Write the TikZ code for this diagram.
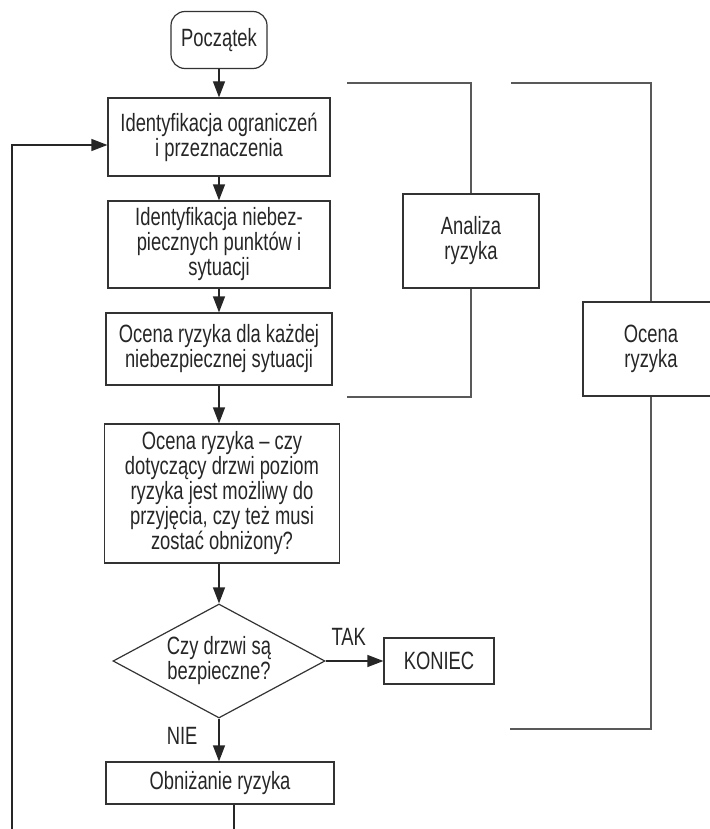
\documentclass[tikz,border=0pt]{standalone}
\usepackage{fontspec}
\setmainfont{Liberation Sans}[FakeStretch=0.735]
\usetikzlibrary{shapes.geometric,arrows.meta}
\begin{document}
\begin{tikzpicture}[x=1pt,y=-1pt,
                    thick,line width=1.2pt,
                    every node/.style={text=black!85,font=\fontsize{25}{25}\selectfont},
                    box node/.style={rectangle,draw=black!80,align=center,inner sep=0pt},
                    start node/.style={box node,rounded corners=14pt},
                    decision node/.style={diamond,draw=black!80,align=center,inner sep=0pt,
                                          aspect=1.86,minimum width=212,minimum height=114},
                    label node/.style={inner sep=2pt},
                    flow/.style={draw=black!85,-{Triangle[length=16pt,width=12pt]}},
                    bracket/.style={draw=black!65,line width=1.4pt}]
             \useasboundingbox (0,0) rectangle (709,829);
             % main column
             \node[start node,minimum width=96,minimum height=57] (0) at (219,40) {Początek};
             \node[box node,minimum width=222,minimum height=78] (1) at (219,137)
                  {Identyfikacja ograniczeń\\ i przeznaczenia};
             \node[box node,minimum width=222,minimum height=87] (2) at (219,244.5)
                  {Identyfikacja niebez-\\ piecznych punktów i\\ sytuacji};
             \node[box node,minimum width=226,minimum height=72] (3) at (219,349)
                  {Ocena ryzyka dla każdej\\ niebezpiecznej sytuacji};
             \node[box node,minimum width=235,minimum height=139] (4) at (222,493.5)
                  {Ocena ryzyka – czy\\ dotyczący drzwi poziom\\ ryzyka jest możliwy do\\ przyjęcia, czy też musi\\ zostać obniżony?};
             \node[decision node] (5) at (219,661) {Czy drzwi są\\ bezpieczne?};
             \node[box node,minimum width=228,minimum height=42] (6) at (220,783) {Obniżanie ryzyka};
             \node[box node,minimum width=110,minimum height=46] (K) at (439,661) {KONIEC};
             % side boxes
             \node[box node,minimum width=136,minimum height=94] (A) at (471,241) {Analiza\\ ryzyka};
             \node[box node,minimum width=136,minimum height=94] (R) at (651,349) {Ocena\\ ryzyka};
             \coordinate (a1) at (347,83);
             \coordinate (a2) at (347,397);
             \coordinate (r1) at (511,83);
             \coordinate (r2) at (510,729);
             \coordinate (B1) at (234,829);
             \coordinate (B2) at (12,829);
             \path%
               (0) edge[flow] (1)
               (1) edge[flow] (2)
               (2) edge[flow] (3)
               (3.south -| 5.north) edge[flow] (5.north |- 4.north)
               (4.south -| 5.north) edge[flow] (5)
               (5) edge[flow] node[label node,left=19pt,pos=0.4] {NIE} (5.south |- 6.north)
               (5) edge[flow] node[label node,above=13pt,pos=0.4] {TAK} (K);
             \draw[draw=black!85] (6.south -| B1) -- (B1);
             \draw[flow] (B2) |- ([yshift=-8pt]1.west);
             \draw[bracket] (a1) -| (A.north);
             \draw[bracket] (A.south) |- (a2);
             \draw[bracket] (r1) -| (R.north);
             \draw[bracket] (R.south) |- (r2);
         \end{tikzpicture}
\end{document}
